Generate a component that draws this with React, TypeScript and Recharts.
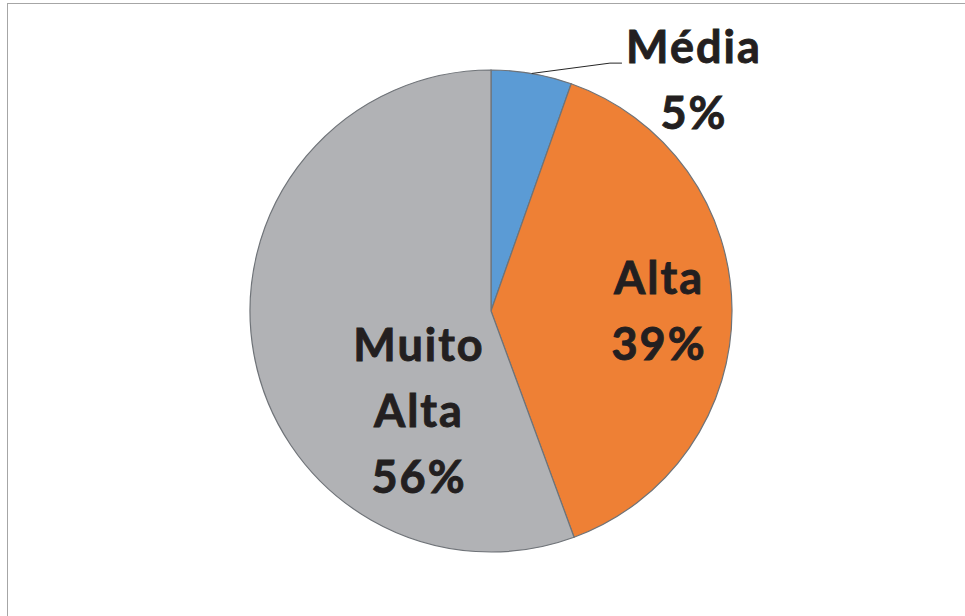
import { Pie, PieChart, Cell } from "recharts";

const categories = ["Média", "Alta", "Muito Alta"];
const values = [5.4, 39, 55.6];
const labelLines = [["Média"], ["Alta"], ["Muito", "Alta"]];
const colors = ["#5B9BD5", "#EE8035", "#B1B2B5"];

// label anchors as fractions of the outer radius, measured from the centre
const labelAnchors = [
  { dx: 0.838, dy: -0.958, outside: true },
  { dx: 0.693, dy: 0.0, outside: false },
  { dx: -0.303, dy: 0.415, outside: false },
];

const data = categories.map((name, i) => ({ name, value: values[i] }));

const LINE_GAP = 66;
const CAP = 32;

const renderLabel = (props: any) => {
  const { cx, cy, midAngle, outerRadius, percent, index } = props;
  const a = labelAnchors[index];
  const x = cx + a.dx * outerRadius;
  const mid = cy + a.dy * outerRadius;
  const lines = [...labelLines[index], `${Math.round(percent * 100)}%`];
  const first = mid - ((lines.length - 1) * LINE_GAP) / 2 + CAP / 2;
  const rad = (Math.PI / 180) * midAngle;
  const sx = cx + outerRadius * Math.cos(rad);
  const sy = cy - outerRadius * Math.sin(rad);
  return (
    <g key={`lbl-${index}`}>
      {a.outside && (
        <polyline
          points={`${sx},${sy} ${x - 83},${mid - 17} ${x - 71},${mid - 17}`}
          fill="none"
          stroke="#262626"
          strokeWidth={1}
        />
      )}
      <text
        textAnchor="middle"
        fill="#231F20"
        stroke="#231F20"
        strokeWidth={0.9}
        fontFamily="Lato, 'Open Sans', sans-serif"
        fontWeight={700}
        fontSize={45}
        letterSpacing={2}
      >
        {lines.map((t, i) => (
          <tspan key={i} x={x + 1} y={first + i * LINE_GAP}>
            {t}
          </tspan>
        ))}
      </text>
    </g>
  );
};

export default function App() {
  return (
    <div
      style={{
        position: "absolute",
        left: 0,
        top: 0,
        width: 965,
        height: 616,
        background: "#fff",
        overflow: "hidden",
      }}
    >
      <div
        style={{
          position: "absolute",
          left: 7,
          top: 3,
          width: 1000,
          height: 700,
          borderLeft: "1.5px solid #a6a6a6",
          borderTop: "1.5px solid #a6a6a6",
        }}
      />
      <PieChart
        width={965}
        height={616}
        margin={{ top: 0, right: 0, bottom: 0, left: 0 }}
        style={{ position: "absolute", left: 0, top: 0 }}
      >
        <Pie
          data={data}
          dataKey="value"
          nameKey="name"
          cx={491}
          cy={311}
          outerRadius={241}
          startAngle={90}
          endAngle={-270}
          stroke="#6F7378"
          strokeWidth={1.2}
          label={renderLabel}
          labelLine={false}
          isAnimationActive={false}
        >
          {data.map((d, i) => (
            <Cell key={d.name} fill={colors[i]} />
          ))}
        </Pie>
      </PieChart>
    </div>
  );
}
